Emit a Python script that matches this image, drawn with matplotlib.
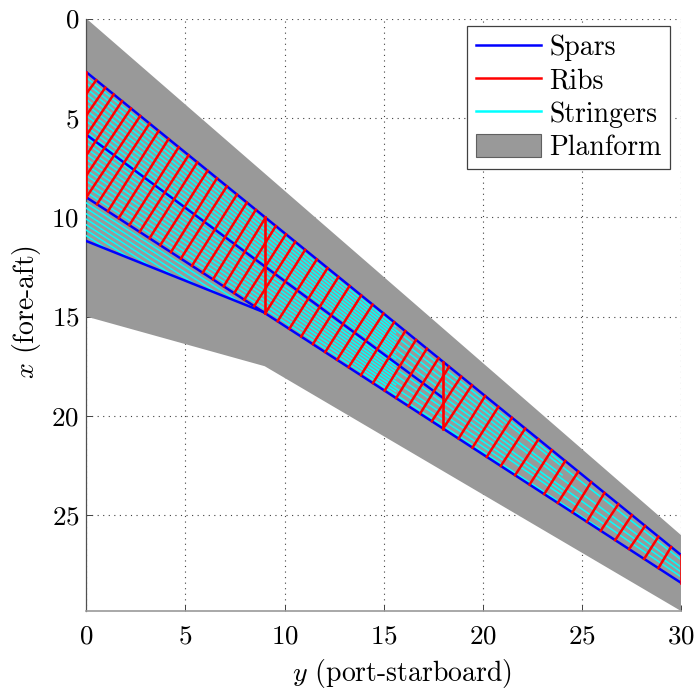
import numpy as np
import matplotlib
matplotlib.use('Agg')
import matplotlib.pyplot as plt
from matplotlib.lines import Line2D
from matplotlib.patches import Patch

plt.rcParams['font.family'] = ['cmr10', 'DejaVu Serif']
plt.rcParams['mathtext.fontset'] = 'cm'
plt.rcParams['axes.formatter.use_mathtext'] = True

# --- planform outline (y, x) ---
planform_y = [0, 30, 30, 9, 0]
planform_x = [0, 26, 29.82, 17.5, 15]

# --- spars ---
front_y = [0, 30]
front_x = [2.7, 27.0]
rear_y = [0, 30]
rear_x = [9.0, 28.4]
mid_y = [0, 18]
mid_x = [5.85, 19.1]
aft_y = [0, 9]
aft_x = [11.2, 14.8]

# --- ribs running straight in x ---
closing_y = [0, 9, 18, 30]
closing_fwd = [2.7, 9.99, 17.28, 27.0]
closing_aft = [9.0, 14.82, 20.65, 28.4]

# --- ribs cut off by the root ---
root_rib_x = [3.79, 4.88, 5.89, 6.89, 7.9]
root_rib_front_y = [0.5, 0.96, 1.38, 1.8, 2.25]

# --- swept ribs ---
rib_rear_y = [0, .54, 1.09, 1.63, 2.17, 2.69, 3.19, 3.73, 4.27, 4.77, 5.33, 5.87, 6.39,
              6.93, 7.46, 7.97, 8.47, 9.03, 9.65, 10.24, 10.84, 11.43, 12.05, 12.65,
              13.23, 13.85, 14.46, 15.05, 15.63, 16.25, 16.84, 17.43, 18.0, 18.78,
              19.48, 20.2, 20.91, 21.63, 22.36, 23.1, 23.78, 24.52, 25.25, 25.95,
              26.68, 27.38, 28.14, 28.86]
rib_front_y = [2.72, 3.19, 3.65, 4.15, 4.66, 5.16, 5.6, 6.12, 6.59, 7.09, 7.6, 8.1, 8.55,
               9.04, 9.56, 10.07, 10.54, 11.04, 11.63, 12.17, 12.72, 13.28, 13.87, 14.44,
               14.99, 15.53, 16.09, 16.63, 17.18, 17.77, 18.3, 18.91, 19.45, 20.12,
               20.79, 21.47, 22.14, 22.81, 23.48, 24.16, 24.82, 25.47, 26.14, 26.84,
               27.52, 28.19, 28.86, 29.5]

# --- stringers: x at root, x at tip, span where each one stops ---
str_root_x = [2.97, 3.25, 3.52, 3.80, 4.07, 4.34, 4.62, 4.89, 5.17, 5.44, 5.71,
              5.99, 6.26, 6.53, 6.81, 7.08, 7.36, 7.63, 7.90, 8.18, 8.45, 8.73]
str_tip_x = [27.06, 27.12, 27.18, 27.24, 27.30, 27.37, 27.43, 27.49, 27.55, 27.61, 27.67,
             27.73, 27.79, 27.85, 27.91, 27.97, 28.03, 28.10, 28.16, 28.22, 28.28, 28.34]
str_end_y = [15.6, 24, 15.6, 30, 15.6, 21, 15.6, 24, 15.6, 30, 15.6,
             21.5, 15.6, 30, 15.6, 24, 15.6, 30, 15.6, 21, 15.6, 26]

# stringers behind the rear spar, they stop on the aft spar
aft_str_root_x = [9.28, 9.55, 9.83, 10.1, 10.38, 10.65, 10.93]
aft_str_end_y = [7.77, 6.68, 5.55, 4.45, 3.32, 2.23, 1.09]

xticks = [0, 5, 10, 15, 20, 25, 30]
yticks = [0, 5, 10, 15, 20, 25]

fig = plt.figure(figsize=(6.96, 6.90), dpi=100)
ax = fig.add_axes([86.3 / 696, 1 - 611 / 690, (681 - 86.3) / 696, (611 - 18.5) / 690])

ax.fill(planform_y, planform_x, color='#999999', lw=0, zorder=2)

for x0, x1, yend in zip(str_root_x, str_tip_x, str_end_y):
    ax.plot([0, yend], [x0, np.interp(yend, [0, 30], [x0, x1])], color='cyan', lw=1.1, zorder=3)
for x0, yend in zip(aft_str_root_x, aft_str_end_y):
    ax.plot([0, yend], [x0, np.interp(yend, aft_y, aft_x)], color='cyan', lw=1.1, zorder=3)

for yy, xx in [(front_y, front_x), (rear_y, rear_x), (mid_y, mid_x), (aft_y, aft_x)]:
    ax.plot(yy, xx, color='blue', lw=1.8, zorder=4)

for y0, a, b in zip(closing_y, closing_fwd, closing_aft):
    ax.plot([y0, y0], [a, b], color='red', lw=1.9, zorder=5)
for a, b in zip(root_rib_x, root_rib_front_y):
    ax.plot([0, b], [a, np.interp(b, front_y, front_x)], color='red', lw=1.8, zorder=5)
for a, b in zip(rib_rear_y, rib_front_y):
    ax.plot([a, b], [np.interp(a, rear_y, rear_x), np.interp(b, front_y, front_x)],
            color='red', lw=1.8, zorder=5)

ax.set_xlim(0, 30)
ax.set_ylim(29.82, 0)
ax.set_xticks(xticks)
ax.set_yticks(yticks)
ax.tick_params(direction='in', length=4, width=0.7, color='#404040', labelsize=19.5)
ax.tick_params(axis='x', pad=10)
ax.tick_params(axis='y', pad=5)
ax.grid(True, color='#404040', lw=0.8, linestyle=(0, (1, 4)), zorder=1)
ax.set_axisbelow(True)

for s in ['top', 'right']:
    ax.spines[s].set_visible(False)
ax.spines['left'].set_color('#505050')
ax.spines['left'].set_linewidth(0.9)
ax.spines['bottom'].set_color('#999999')
ax.spines['bottom'].set_linewidth(1.2)

ax.set_xlabel(r'$y$ (port-starboard)', fontsize=20)
ax.set_ylabel(r'$x$ (fore-aft)', fontsize=20)
ax.xaxis.set_label_coords((402 - 86.3) / 594.7, -(657 - 611) / 592.5)
ax.yaxis.set_label_coords((43 - 86.3) / 594.7, 1 - (312 - 18.5) / 592.5)

handles = [Line2D([], [], color='blue', lw=1.8),
           Line2D([], [], color='red', lw=1.8),
           Line2D([], [], color='cyan', lw=1.8),
           Patch(facecolor='#999999', edgecolor='#606060', lw=0.8)]
leg = ax.legend(handles, ['Spars', 'Ribs', 'Stringers', 'Planform'],
                loc='upper right', bbox_to_anchor=((670 - 86.3) / 594.7, 1 - (26 - 18.5) / 592.5),
                fontsize=20, fancybox=False, framealpha=1, edgecolor='#404040',
                borderaxespad=0, handlelength=2.35, handletextpad=0.3,
                borderpad=0.3, labelspacing=0.22, handleheight=0.9)
leg.get_frame().set_linewidth(0.9)
leg.set_zorder(10)

fig.savefig('out.png', dpi=100)
